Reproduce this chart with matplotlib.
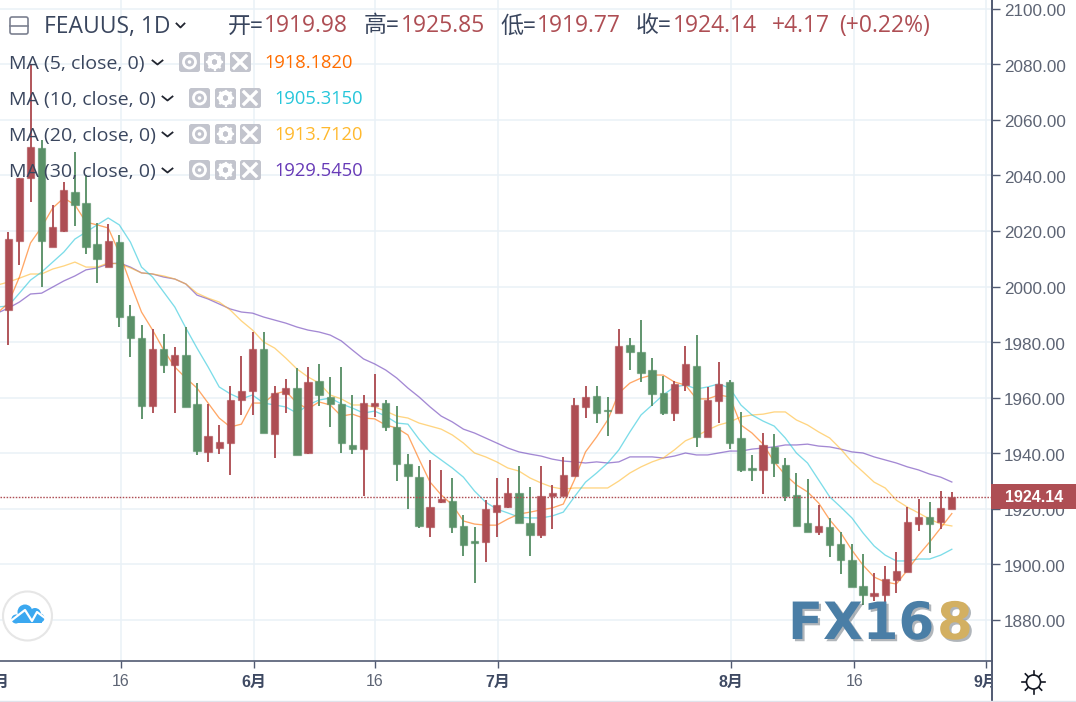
import matplotlib
matplotlib.use('Agg')
import matplotlib.pyplot as plt
import matplotlib.patheffects as pe
from matplotlib.transforms import ScaledTranslation
import numpy as np
from matplotlib.patches import Circle, FancyBboxPatch, Rectangle

opens = [1991.5, 2016.4, 2039.1, 2049.9, 2014.2, 2020.0, 2034.1, 2030.1, 2015.3, 2007.0,
         2016.0, 1989.4, 1981.4, 1956.9, 1977.5, 1971.7, 1975.3, 1957.7, 1940.4, 1941.8,
         1943.6, 1959.1, 1962.3, 1977.5, 1946.8, 1961.3, 1963.4, 1940.0, 1966.0, 1960.2,
         1957.7, 1942.9, 1941.4, 1956.9, 1958.0, 1949.4, 1936.0, 1931.3, 1913.3, 1922.3,
         1922.7, 1913.7, 1908.3, 1907.9, 1918.7, 1920.5, 1925.6, 1914.8, 1910.4, 1924.5,
         1924.5, 1931.7, 1956.6, 1960.5, 1955.5, 1954.4, 1978.9, 1976.4, 1969.9, 1961.6,
         1954.4, 1964.5, 1971.3, 1945.8, 1958.7, 1965.6, 1945.4, 1934.6, 1933.9, 1942.2,
         1935.7, 1924.9, 1914.8, 1911.5, 1913.3, 1907.2, 1901.4, 1892.1, 1888.5, 1888.8,
         1894.2, 1897.1, 1914.4, 1916.9, 1915.1, 1919.98]
highs = [2019.6, 2039.1, 2079.8, 2052.8, 2029.4, 2037.7, 2048.5, 2040.2, 2022.9, 2022.5,
         2018.6, 1993.3, 1986.1, 1984.7, 1982.9, 1978.2, 1985.4, 1965.2, 1957.7, 1950.1,
         1964.2, 1974.9, 1983.6, 1983.6, 1964.2, 1966.7, 1970.6, 1971.0, 1972.1, 1967.4,
         1971.0, 1960.9, 1960.9, 1968.5, 1959.1, 1956.9, 1939.6, 1935.3, 1937.5, 1933.9,
         1931.0, 1917.7, 1913.3, 1923.0, 1931.0, 1931.0, 1935.3, 1927.7, 1935.3, 1928.5,
         1938.6, 1959.8, 1964.2, 1964.2, 1960.2, 1984.7, 1981.4, 1987.9, 1974.2, 1967.7,
         1966.0, 1978.6, 1982.5, 1963.8, 1972.8, 1966.3, 1954.8, 1939.3, 1947.2, 1946.8,
         1938.2, 1932.8, 1930.6, 1921.3, 1916.6, 1911.5, 1907.2, 1903.6, 1896.8, 1899.3,
         1904.3, 1920.5, 1923.4, 1922.3, 1926.3, 1925.85]
lows = [1979.0, 2007.7, 2030.4, 1999.8, 2014.2, 2019.6, 2021.8, 2011.7, 2001.2, 2007.0,
        1985.4, 1974.6, 1952.3, 1954.4, 1968.8, 1954.4, 1956.6, 1939.3, 1936.8, 1939.6,
        1932.1, 1953.7, 1953.7, 1947.2, 1938.2, 1954.4, 1939.3, 1939.6, 1956.9, 1949.4,
        1940.0, 1939.6, 1924.5, 1953.0, 1947.9, 1929.9, 1919.8, 1913.0, 1909.7, 1922.0,
        1911.2, 1902.9, 1893.2, 1900.7, 1909.7, 1920.2, 1914.8, 1902.9, 1909.4, 1912.6,
        1924.5, 1931.7, 1952.6, 1950.8, 1946.1, 1954.4, 1969.9, 1965.6, 1956.9, 1953.7,
        1951.5, 1962.3, 1942.2, 1945.8, 1950.8, 1941.4, 1933.2, 1929.9, 1925.2, 1931.3,
        1922.7, 1913.7, 1911.5, 1910.4, 1902.5, 1896.4, 1891.7, 1885.2, 1886.7, 1884.2,
        1889.5, 1897.1, 1911.9, 1904.0, 1912.6, 1919.77]
closes = [2017.1, 2039.1, 2050.3, 2016.4, 2021.4, 2034.8, 2029.4, 2014.2, 2009.9, 2016.4,
          1989.0, 1981.4, 1956.9, 1977.5, 1971.7, 1975.3, 1956.6, 1940.7, 1946.1, 1944.0,
          1959.1, 1962.3, 1977.5, 1947.2, 1961.6, 1963.4, 1939.3, 1965.6, 1960.9, 1957.7,
          1943.6, 1941.4, 1958.0, 1958.0, 1949.4, 1936.0, 1931.7, 1913.7, 1920.5, 1923.4,
          1913.3, 1906.8, 1907.6, 1919.8, 1921.3, 1925.6, 1914.8, 1910.4, 1924.5, 1925.6,
          1932.1, 1957.3, 1960.2, 1954.4, 1955.1, 1978.6, 1976.4, 1968.8, 1961.3, 1954.4,
          1964.9, 1972.1, 1945.8, 1959.1, 1964.9, 1943.6, 1933.9, 1933.9, 1942.9, 1936.4,
          1924.5, 1913.7, 1911.5, 1913.7, 1906.8, 1901.4, 1891.7, 1888.8, 1889.5, 1894.6,
          1897.5, 1915.1, 1916.9, 1914.4, 1920.2, 1924.14]

# moving averages start one day before the first full candle
ma5 = [1990.4, 1994.0, 2003.4, 2015.7, 2021.4, 2028.3, 2031.9, 2029.4, 2023.2, 2022.2, 2021.1,
       2012.1, 2001.2, 1990.8, 1984.3, 1977.1, 1971.0, 1967.0, 1963.4, 1958.0, 1952.6,
       1949.4, 1950.4, 1958.0, 1958.0, 1961.3, 1962.3, 1958.0, 1955.9, 1958.4, 1957.3,
       1953.3, 1954.0, 1952.6, 1952.3, 1950.1, 1949.0, 1946.5, 1937.8, 1929.5, 1924.9,
       1921.3, 1915.5, 1914.4, 1914.0, 1914.0, 1916.2, 1918.0, 1918.7, 1919.5, 1920.2,
       1921.6, 1930.3, 1940.4, 1945.8, 1951.9, 1961.6, 1965.2, 1967.0, 1968.1, 1968.1,
       1965.6, 1964.5, 1959.5, 1959.5, 1960.9, 1960.2, 1950.1, 1947.2, 1943.2, 1936.8,
       1932.1, 1928.5, 1926.0, 1922.0, 1915.9, 1911.2, 1905.0, 1899.6, 1895.3, 1893.5,
       1892.8, 1897.8, 1903.2, 1907.9, 1913.0, 1918.18]
ma10 = [1992.6, 1993.0, 1997.6, 2002.3, 2005.2, 2008.8, 2012.4, 2017.1, 2019.6, 2022.2, 2024.7,
        2022.2, 2016.0, 2007.0, 2003.4, 1998.0, 1992.6, 1985.0, 1977.8, 1971.0, 1963.8,
        1961.3, 1959.5, 1960.9, 1958.0, 1957.3, 1956.6, 1954.4, 1957.3, 1959.1, 1959.8,
        1957.7, 1956.2, 1954.4, 1955.1, 1953.3, 1950.8, 1950.4, 1945.0, 1940.4, 1937.5,
        1934.6, 1931.3, 1926.3, 1922.3, 1919.8, 1918.4, 1916.9, 1916.6, 1916.6, 1917.3,
        1918.7, 1924.2, 1929.5, 1932.8, 1936.4, 1941.1, 1947.6, 1953.7, 1957.3, 1960.9,
        1963.8, 1964.5, 1963.1, 1963.8, 1964.9, 1963.4, 1957.3, 1953.7, 1951.5, 1949.7,
        1945.4, 1940.0, 1936.4, 1930.3, 1924.2, 1920.5, 1916.6, 1911.2, 1906.5, 1903.2,
        1901.1, 1901.1, 1901.8, 1901.8, 1903.2, 1905.315]
ma20 = [2000.5, 2001.6, 2003.0, 2004.5, 2004.5, 2006.3, 2007.4, 2008.8, 2007.0, 2007.0, 2008.5,
        2008.1, 2006.7, 2004.9, 2004.5, 2003.8, 2002.7, 2000.9, 1997.6, 1995.8, 1994.4,
        1991.5, 1987.6, 1984.3, 1980.0, 1977.8, 1974.2, 1970.3, 1967.4, 1965.2, 1960.9,
        1959.5, 1957.3, 1957.3, 1956.6, 1955.1, 1953.3, 1952.6, 1950.8, 1949.7, 1948.6,
        1946.5, 1943.6, 1940.0, 1938.6, 1936.8, 1934.6, 1933.5, 1931.0, 1929.2, 1927.7,
        1927.0, 1927.4, 1927.4, 1927.4, 1927.4, 1929.9, 1932.8, 1935.0, 1936.8, 1938.2,
        1941.1, 1944.4, 1946.1, 1948.3, 1950.1, 1951.2, 1953.0, 1953.7, 1954.0, 1954.8,
        1954.8, 1951.9, 1950.1, 1947.6, 1945.4, 1941.4, 1936.8, 1933.2, 1929.5, 1927.4,
        1923.0, 1920.5, 1918.4, 1916.2, 1914.4, 1913.712]
ma30 = [1990.4, 1992.2, 1994.4, 1997.3, 1997.6, 1999.8, 2002.0, 2003.8, 2006.0, 2006.7, 2008.1,
        2008.5, 2007.0, 2004.9, 2004.5, 2003.4, 2002.7, 2000.9, 1996.9, 1995.5, 1993.7,
        1991.9, 1990.8, 1990.4, 1989.0, 1987.9, 1986.8, 1985.4, 1984.3, 1983.6, 1982.5,
        1980.4, 1977.1, 1973.9, 1972.1, 1969.9, 1967.0, 1963.4, 1960.2, 1956.6, 1953.3,
        1951.2, 1948.6, 1947.2, 1945.4, 1943.6, 1941.8, 1940.4, 1939.6, 1938.9, 1937.8,
        1937.1, 1936.8, 1936.4, 1936.8, 1936.4, 1936.8, 1938.6, 1938.6, 1938.6, 1938.2,
        1938.9, 1940.0, 1939.3, 1939.3, 1940.0, 1940.7, 1940.7, 1941.4, 1941.8, 1942.2,
        1942.9, 1942.9, 1943.2, 1942.5, 1942.2, 1941.4, 1940.4, 1940.0, 1938.6, 1937.5,
        1936.4, 1935.0, 1933.9, 1932.4, 1931.3, 1929.545]

y_ticks = list(range(1880, 2101, 20))
x_tick_days = [10.15, 22.13, 33.03, 44.12, 65.1, 76.2, 88.1]
x_tick_labels = ['16', '6月', '16', '7月', '8月', '16', '9月']
ma_names = ['MA (5, close, 0)', 'MA (10, close, 0)', 'MA (20, close, 0)', 'MA (30, close, 0)']
ma_values = ['1918.1820', '1905.3150', '1913.7120', '1929.5450']
ma_colors = ['#ff6d00', '#26c6da', '#ffb92e', '#673ab7']
last_price = 1924.14

RED = '#ae4e54'
GREEN = '#5a9168'
DARK = '#3a465e'
CJK = ['Open Sans', 'Noto Sans CJK SC', 'DejaVu Sans']

fig = plt.figure(figsize=(10.76, 7.02), dpi=100)
ax = fig.add_axes([0, 41 / 702, 992 / 1076, 661 / 702])
ax.set_xlim(-0.748, 88.62)
ax.set_ylim(1865.05, 2103.24)

days = np.arange(len(opens))
ma_days = np.arange(-1, len(opens))
for series, color in zip([ma30, ma20, ma10, ma5], ['#673ab7', '#ffb92e', '#26c6da', '#ff6d00']):
    ax.plot(ma_days, series, color=color, lw=0.95, alpha=0.6, zorder=2)

opens = np.array(opens)
closes = np.array(closes)
colors = [RED if c >= o else GREEN for o, c in zip(opens, closes)]
ax.vlines(days, lows, highs, colors=colors, lw=1.35, zorder=3)
ax.bar(days, np.abs(closes - opens), bottom=np.minimum(opens, closes), width=0.66,
       color=colors, edgecolor=[c + '99' for c in colors], linewidth=0.9, zorder=4)

ax.axhline(last_price, color=RED, lw=1, ls=(0, (1.1, 1.1)), zorder=5)

ax.set_axisbelow(True)
ax.grid(True, color='#e9f1f7', lw=1.1)
ax.set_xticks(x_tick_days)
ax.set_xticklabels([])
ax.set_yticks(y_ticks)
ax.set_yticklabels(['%.2f' % v for v in y_ticks], family='Liberation Sans', fontsize=12.3, color='#5d6474')
ax.yaxis.tick_right()
ax.tick_params(axis='y', length=6, width=1, color='#515a72', pad=2.5)
ax.tick_params(axis='x', length=5, width=1, color='#515a72')
for lab in ax.get_yticklabels():
    lab.set_transform(lab.get_transform() + ScaledTranslation(0, -1.5 / 100, fig.dpi_scale_trans))
for side in ['top', 'left']:
    ax.spines[side].set_visible(False)
ax.spines['right'].set_color('#515a72')
ax.spines['right'].set_linewidth(1.4)
ax.spines['bottom'].set_color('#515a72')
ax.spines['bottom'].set_linewidth(1.2)

# overlay in pixel coordinates for the trading-view furniture
ui = fig.add_axes([0, 0, 1, 1], zorder=10)
ui.set_xlim(0, 1076)
ui.set_ylim(702, 0)
ui.axis('off')
ui.patch.set_alpha(0)

clip = Rectangle((0, 0), 991, 702, transform=ui.transData)
for day, label in zip([-1.06] + x_tick_days, ['5月'] + x_tick_labels):
    bold = '月' in label
    t = ax.text(day, -21 / 661, label, transform=ax.get_xaxis_transform(), ha='center', va='center',
                fontsize=11.5, color='#3f4a63' if bold else '#5d6474', fontweight='bold' if bold else 'normal',
                family=['Liberation Sans', 'Noto Sans CJK SC'], clip_on=True)
    t.set_clip_path(clip)

ui.plot([992, 992], [661, 702], color='#515a72', lw=1.4)
ui.plot([0, 1076], [700.5, 700.5], color='#e0e3eb', lw=1)

# header
ui.add_patch(FancyBboxPatch((10, 17), 18, 17, boxstyle='round,pad=0,rounding_size=2', fc='white', ec='#7b8090', lw=1.2))
ui.plot([10, 28], [25.5, 25.5], color='#7b8090', lw=1.2)
ui.text(44, 26.5, 'FEAUUS, 1D', fontsize=16.5, color=DARK, va='center', family=CJK)
ui.plot([176.5, 180.5, 184.5], [23.5, 27.5, 23.5], color='#222631', lw=1.3)
header = [(228, '开=', DARK), (264, '1919.98', RED), (364, '高=', DARK), (401, '1925.85', RED),
          (500, '低=', DARK), (537, '1919.77', RED), (636, '收=', DARK), (673, '1924.14', RED),
          (772, '+4.17', RED), (839, '(+0.22%)', RED)]
for x, s, c in header:
    ui.text(x, 26.5, s, fontsize=16.5, color=c, va='center', family=CJK)

# indicator rows
for n, (name, value, color, y) in enumerate(zip(ma_names, ma_values, ma_colors, [62, 98, 134, 170])):
    off = 0 if n == 0 else 10
    ui.text(9, y + 1.5, name, fontsize=14, color=DARK, va='center', family=CJK)
    ui.plot([152.5 + off, 157.5 + off, 162.5 + off], [y - 1.5, y + 2.5, y - 1.5], color='#222631', lw=1.3)
    for bx in [179 + off, 204 + (11 if n else 0), 230 + off]:
        ui.add_patch(FancyBboxPatch((bx, y - 10), 21, 20, boxstyle='round,pad=0,rounding_size=2.5', fc='#c2c4cd', ec='none'))
    ui.add_patch(Circle((189.5 + off, y), 6, fc='none', ec='white', lw=2))
    ui.add_patch(Circle((189.5 + off, y), 1.8, fc='white', ec='none'))
    gx = 214.5 + (11 if n else 0)
    ui.add_patch(Circle((gx, y), 5.2, fc='none', ec='white', lw=3))
    for a in np.arange(0, np.pi, np.pi / 4):
        ui.plot([gx - 7.5 * np.cos(a), gx + 7.5 * np.cos(a)], [y - 7.5 * np.sin(a), y + 7.5 * np.sin(a)],
                color='white', lw=1.6, zorder=1.9)
        ui.add_patch(Circle((gx, y), 2.4, fc='#c2c4cd', ec='none', zorder=3))
    ui.plot([234 + off, 246 + off], [y - 6, y + 6], color='white', lw=2.4)
    ui.plot([234 + off, 246 + off], [y + 6, y - 6], color='white', lw=2.4)
    ui.text(264 + off, y + 1.5, value, fontsize=13.2, color=color, va='center', family=CJK)

# last price label
ui.add_patch(Rectangle((991, 484), 85, 25, fc=RED, ec='none'))
ui.text(1034.5, 497, '%.2f' % last_price, fontsize=11.6, color='white', fontweight='bold', ha='center', va='center',
        family='Liberation Sans')

# cloud badge
ui.add_patch(Circle((27.5, 616), 24.5, fc='white', ec='#e6e6e6', lw=1.5))
ui.add_patch(Circle((25, 612), 7.5, fc='#3ba8f0', ec='none'))
ui.add_patch(Circle((35, 614), 6, fc='#3ba8f0', ec='none'))
ui.add_patch(Circle((40, 618), 4.5, fc='#3ba8f0', ec='none'))
ui.add_patch(Circle((16, 619), 4.5, fc='#3ba8f0', ec='none'))
ui.add_patch(Rectangle((14, 616), 28, 7, fc='#3ba8f0', ec='none'))
ui.plot([12, 25, 32, 37, 45], [620, 610, 621, 612, 618], color='white', lw=1.6)

# watermark
shadow = [pe.withSimplePatchShadow(offset=(1.6, -1.6), shadow_rgbFace='#1d2c3a', alpha=0.35)]
ui.text(788, 625, 'FX16', fontsize=37, fontweight='bold', color='#4a7ea6', va='center', family='DejaVu Sans',
        path_effects=shadow)
ui.text(937, 625, '8', fontsize=37, fontweight='bold', color='#d3b062', va='center', family='DejaVu Sans',
        path_effects=shadow)

# settings sun
ui.add_patch(Circle((1033.5, 682), 7, fc='none', ec='#131722', lw=1.2))
for a in np.arange(0, 2 * np.pi, np.pi / 4):
    ui.plot([1033.5 + 7.5 * np.cos(a), 1033.5 + 11.5 * np.cos(a)], [682 + 7.5 * np.sin(a), 682 + 11.5 * np.sin(a)],
            color='#131722', lw=1.2)

fig.savefig('out.png', dpi=100)
